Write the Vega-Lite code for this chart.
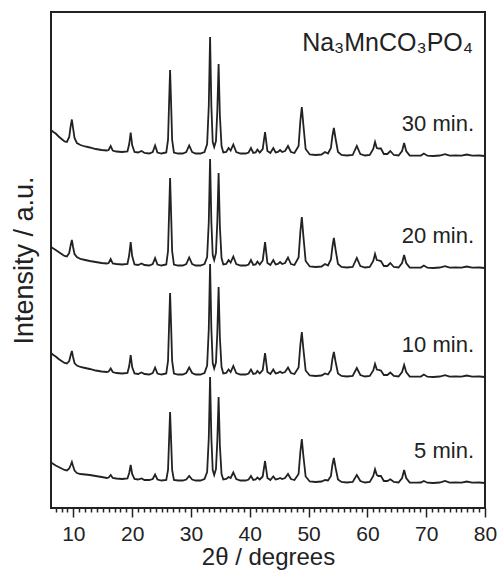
{
  "$schema": "https://vega.github.io/schema/vega-lite/v6.json",
  "width": 434,
  "height": 496,
  "autosize": {"type": "none"},
  "padding": {"left": 51, "top": 12, "right": 15, "bottom": 65},
  "background": "white",
  "config": {
    "view": {"stroke": "#222", "strokeWidth": 2},
    "font": "Liberation Sans"
  },
  "title": {
    "text": "Na₃MnCO₃PO₄",
    "anchor": "end",
    "frame": "group",
    "orient": "top",
    "offset": -44,
    "dx": -12,
    "fontSize": 25,
    "fontWeight": "normal",
    "font": "Liberation Sans",
    "color": "#222"
  },
  "datasets": {
    "xrd": [
      {"t":6.2,"m30":378,"m20":261,"m10":155,"m5":45.5},
      {"t":6.6,"m30":376,"m20":259.5,"m10":153,"m5":44},
      {"t":7.0,"m30":374.5,"m20":258,"m10":151.5,"m5":42.5},
      {"t":7.5,"m30":371.5,"m20":256,"m10":149,"m5":41},
      {"t":8.0,"m30":369,"m20":254,"m10":147,"m5":39.5},
      {"t":8.5,"m30":366.5,"m20":252,"m10":145,"m5":38},
      {"t":8.9,"m30":366,"m20":251.5,"m10":144.5,"m5":37.5},
      {"t":9.3,"m30":371,"m20":255,"m10":147,"m5":39.5},
      {"t":9.55,"m30":382,"m20":263,"m10":153,"m5":43},
      {"t":9.75,"m30":388.5,"m20":268,"m10":157,"m5":46},
      {"t":9.95,"m30":380,"m20":261,"m10":151,"m5":42},
      {"t":10.2,"m30":370,"m20":254,"m10":145,"m5":37.5},
      {"t":10.6,"m30":365,"m20":251,"m10":142.5,"m5":35},
      {"t":11.2,"m30":363,"m20":249,"m10":141,"m5":34},
      {"t":12.0,"m30":361.5,"m20":248,"m10":140,"m5":33.5},
      {"t":12.8,"m30":360.5,"m20":247,"m10":139,"m5":33},
      {"t":13.8,"m30":359,"m20":246,"m10":137.5,"m5":32},
      {"t":14.8,"m30":358,"m20":245,"m10":136.5,"m5":31},
      {"t":15.7,"m30":357.5,"m20":244.5,"m10":136,"m5":30},
      {"t":16.0,"m30":358,"m20":245,"m10":136.5,"m5":30.5},
      {"t":16.35,"m30":362,"m20":249,"m10":139.5,"m5":33},
      {"t":16.7,"m30":357.5,"m20":244.5,"m10":136,"m5":30},
      {"t":17.3,"m30":356.5,"m20":244,"m10":135,"m5":29.5},
      {"t":18.3,"m30":356,"m20":243.5,"m10":134.5,"m5":29},
      {"t":19.2,"m30":356.5,"m20":244,"m10":135,"m5":29.5},
      {"t":19.5,"m30":364,"m20":253,"m10":142,"m5":35},
      {"t":19.75,"m30":375.5,"m20":266,"m10":153,"m5":43},
      {"t":20.0,"m30":363,"m20":252,"m10":141,"m5":34},
      {"t":20.4,"m30":356,"m20":243.5,"m10":134.5,"m5":29},
      {"t":21.0,"m30":355.5,"m20":243,"m10":134,"m5":28.5},
      {"t":21.6,"m30":357,"m20":244.5,"m10":135.5,"m5":29.5},
      {"t":22.1,"m30":355,"m20":243,"m10":134,"m5":28},
      {"t":22.9,"m30":354.5,"m20":242.5,"m10":133.5,"m5":28},
      {"t":23.5,"m30":356,"m20":244,"m10":135,"m5":29},
      {"t":23.9,"m30":362.5,"m20":250,"m10":140.5,"m5":33.5},
      {"t":24.3,"m30":355.5,"m20":243.5,"m10":134.5,"m5":28.5},
      {"t":25.0,"m30":354.5,"m20":242.5,"m10":133.5,"m5":27.5},
      {"t":25.8,"m30":355.5,"m20":243.5,"m10":134.5,"m5":28},
      {"t":26.1,"m30":368,"m20":257,"m10":147,"m5":38},
      {"t":26.28,"m30":405,"m20":295,"m10":183,"m5":68},
      {"t":26.45,"m30":438,"m20":330,"m10":215,"m5":96},
      {"t":26.62,"m30":405,"m20":295,"m10":183,"m5":68},
      {"t":26.8,"m30":368,"m20":257,"m10":147,"m5":38},
      {"t":27.1,"m30":355.5,"m20":243.5,"m10":134.5,"m5":28},
      {"t":27.8,"m30":354.5,"m20":242.5,"m10":133.5,"m5":27.5},
      {"t":28.6,"m30":354.5,"m20":242.5,"m10":133.5,"m5":27.5},
      {"t":29.2,"m30":356,"m20":244,"m10":135,"m5":28.5},
      {"t":29.7,"m30":362.5,"m20":250.5,"m10":140.5,"m5":32},
      {"t":30.2,"m30":356,"m20":244,"m10":135,"m5":28.5},
      {"t":30.8,"m30":354.5,"m20":242.5,"m10":133.5,"m5":27.5},
      {"t":31.6,"m30":354.5,"m20":242.5,"m10":133.5,"m5":27.5},
      {"t":32.3,"m30":356,"m20":244,"m10":135,"m5":29},
      {"t":32.75,"m30":364,"m20":251,"m10":142.5,"m5":36},
      {"t":33.03,"m30":402,"m20":286,"m10":179,"m5":70},
      {"t":33.25,"m30":471,"m20":349,"m10":244,"m5":131},
      {"t":33.47,"m30":402,"m20":286,"m10":179,"m5":70},
      {"t":33.7,"m30":366,"m20":253,"m10":145,"m5":38},
      {"t":33.95,"m30":361,"m20":248,"m10":139.5,"m5":33},
      {"t":34.25,"m30":367,"m20":255,"m10":145.5,"m5":39},
      {"t":34.48,"m30":397,"m20":286,"m10":175,"m5":67},
      {"t":34.7,"m30":444,"m20":335,"m10":221,"m5":111},
      {"t":34.92,"m30":392,"m20":281,"m10":170,"m5":62},
      {"t":35.2,"m30":362,"m20":250,"m10":141,"m5":34},
      {"t":35.5,"m30":355.5,"m20":243.5,"m10":134.5,"m5":28.5},
      {"t":36.0,"m30":356,"m20":244,"m10":135,"m5":29},
      {"t":36.4,"m30":360,"m20":248,"m10":138.5,"m5":31},
      {"t":36.75,"m30":357.5,"m20":245.5,"m10":136,"m5":30},
      {"t":37.2,"m30":363.5,"m20":251.5,"m10":142,"m5":35.5},
      {"t":37.7,"m30":356,"m20":244,"m10":135,"m5":29},
      {"t":38.4,"m30":354.5,"m20":242.5,"m10":133.5,"m5":27.5},
      {"t":39.3,"m30":354.5,"m20":242.5,"m10":133.5,"m5":27.5},
      {"t":39.8,"m30":355.5,"m20":243.5,"m10":134.5,"m5":28.5},
      {"t":40.2,"m30":360,"m20":248,"m10":138.5,"m5":32},
      {"t":40.6,"m30":355,"m20":243,"m10":134,"m5":28},
      {"t":41.0,"m30":355.5,"m20":243.5,"m10":134.5,"m5":28.5},
      {"t":41.3,"m30":358.5,"m20":246.5,"m10":137,"m5":30.5},
      {"t":41.7,"m30":355.5,"m20":243.5,"m10":134.5,"m5":28.5},
      {"t":42.2,"m30":359,"m20":247.5,"m10":138,"m5":31.5},
      {"t":42.6,"m30":376,"m20":266,"m10":155,"m5":47},
      {"t":43.0,"m30":357,"m20":245,"m10":136,"m5":30},
      {"t":43.5,"m30":355,"m20":243,"m10":134,"m5":28},
      {"t":44.0,"m30":360,"m20":248,"m10":138.5,"m5":31.5},
      {"t":44.4,"m30":355.5,"m20":243.5,"m10":134.5,"m5":28.5},
      {"t":44.8,"m30":356,"m20":244,"m10":135,"m5":29},
      {"t":45.15,"m30":358,"m20":246,"m10":136.5,"m5":30},
      {"t":45.5,"m30":356,"m20":244,"m10":135,"m5":29},
      {"t":46.0,"m30":357,"m20":245,"m10":136,"m5":30},
      {"t":46.5,"m30":362,"m20":250.5,"m10":140.5,"m5":34},
      {"t":47.0,"m30":356,"m20":244,"m10":135,"m5":29},
      {"t":47.6,"m30":355,"m20":243,"m10":134,"m5":28},
      {"t":48.3,"m30":362,"m20":250.5,"m10":140.5,"m5":34},
      {"t":48.6,"m30":387,"m20":276,"m10":163,"m5":56},
      {"t":48.85,"m30":401,"m20":291,"m10":176,"m5":69},
      {"t":49.1,"m30":384,"m20":273,"m10":160,"m5":53},
      {"t":49.5,"m30":359,"m20":247,"m10":137.5,"m5":31.5},
      {"t":50.2,"m30":353.5,"m20":241.5,"m10":132.5,"m5":26.5},
      {"t":51.2,"m30":353,"m20":241,"m10":132,"m5":26},
      {"t":52.2,"m30":353.5,"m20":241.5,"m10":132.5,"m5":26.5},
      {"t":52.8,"m30":356,"m20":244,"m10":134.5,"m5":28},
      {"t":53.3,"m30":354.5,"m20":242.5,"m10":133.5,"m5":27.5},
      {"t":53.8,"m30":360,"m20":248.5,"m10":138,"m5":32},
      {"t":54.05,"m30":372,"m20":261,"m10":149,"m5":43},
      {"t":54.3,"m30":380,"m20":270,"m10":156,"m5":50},
      {"t":54.6,"m30":369,"m20":258,"m10":146,"m5":40},
      {"t":55.0,"m30":356,"m20":244,"m10":134.5,"m5":28.5},
      {"t":55.6,"m30":353,"m20":241,"m10":132,"m5":26},
      {"t":56.5,"m30":352.5,"m20":240.5,"m10":131.5,"m5":25.5},
      {"t":57.5,"m30":353,"m20":241,"m10":132,"m5":26},
      {"t":58.2,"m30":362,"m20":250,"m10":140,"m5":33},
      {"t":58.8,"m30":354,"m20":242,"m10":133,"m5":27},
      {"t":59.6,"m30":352.5,"m20":240.5,"m10":131.5,"m5":25.5},
      {"t":60.4,"m30":353,"m20":241,"m10":132,"m5":26},
      {"t":61.0,"m30":359,"m20":247,"m10":137.5,"m5":32},
      {"t":61.3,"m30":366,"m20":254,"m10":144,"m5":38.7},
      {"t":61.6,"m30":360,"m20":248,"m10":138.5,"m5":33},
      {"t":61.9,"m30":359.5,"m20":247.5,"m10":138,"m5":32},
      {"t":62.3,"m30":359.5,"m20":247,"m10":137.5,"m5":32},
      {"t":62.8,"m30":354,"m20":242,"m10":133,"m5":27},
      {"t":63.4,"m30":354,"m20":242,"m10":133,"m5":27},
      {"t":63.9,"m30":357,"m20":245,"m10":135.5,"m5":28.7},
      {"t":64.5,"m30":353,"m20":241,"m10":132,"m5":26},
      {"t":65.3,"m30":352.5,"m20":240.5,"m10":131.5,"m5":25.5},
      {"t":65.9,"m30":357,"m20":245,"m10":136,"m5":30},
      {"t":66.25,"m30":365,"m20":253,"m10":143,"m5":38},
      {"t":66.6,"m30":357,"m20":245,"m10":136,"m5":30},
      {"t":67.2,"m30":352.5,"m20":240.5,"m10":131.5,"m5":25.5},
      {"t":68.3,"m30":352.3,"m20":240.3,"m10":131.3,"m5":25.3},
      {"t":69.1,"m30":352.5,"m20":240.5,"m10":131.5,"m5":25.5},
      {"t":69.6,"m30":354.5,"m20":242.5,"m10":133.5,"m5":27},
      {"t":70.2,"m30":352.3,"m20":240.3,"m10":131.3,"m5":25.3},
      {"t":71.2,"m30":352,"m20":240,"m10":131,"m5":25},
      {"t":72.3,"m30":352.5,"m20":240.5,"m10":131.5,"m5":25.5},
      {"t":73.2,"m30":353.8,"m20":241.8,"m10":132.8,"m5":27},
      {"t":74.0,"m30":352.3,"m20":240.3,"m10":131.3,"m5":25.3},
      {"t":75.0,"m30":352.5,"m20":240.5,"m10":131.5,"m5":25.5},
      {"t":76.0,"m30":352.3,"m20":240.3,"m10":131.3,"m5":25.3},
      {"t":76.9,"m30":353.5,"m20":241.5,"m10":132.5,"m5":26.5},
      {"t":77.8,"m30":352.3,"m20":240.3,"m10":131.3,"m5":25.3},
      {"t":79.0,"m30":352.5,"m20":240.5,"m10":131.5,"m5":25.5},
      {"t":80.0,"m30":352,"m20":240,"m10":131,"m5":25}
    ],
    "names": [
      {"s": "m30", "label": "30 min."},
      {"s": "m20", "label": "20 min."},
      {"s": "m10", "label": "10 min."},
      {"s": "m5", "label": "5 min."}
    ]
  },
  "data": {"name": "xrd"},
  "transform": [
    {"fold": ["m30", "m20", "m10", "m5"], "as": ["s", "I"]}
  ],
  "encoding": {
    "x": {
      "field": "t",
      "type": "quantitative",
      "scale": {"domain": [6.2, 80], "nice": false, "zero": false},
      "axis": {
        "title": "2θ / degrees",
        "titleFontSize": 24,
        "titleFont": "Liberation Sans",
        "titleFontWeight": "normal",
        "titleColor": "#222",
        "titlePadding": 1,
        "values": [7,8,9,10,11,12,13,14,15,16,17,18,19,20,21,22,23,24,25,26,27,28,29,30,31,32,33,34,35,36,37,38,39,40,41,42,43,44,45,46,47,48,49,50,51,52,53,54,55,56,57,58,59,60,61,62,63,64,65,66,67,68,69,70,71,72,73,74,75,76,77,78,79,80],
        "labelExpr": "datum.value % 10 === 0 ? datum.label : ''",
        "labelOverlap": false,
        "labelFlush": false,
        "labelFontSize": 21,
        "labelFont": "Liberation Sans",
        "labelColor": "#222",
        "labelPadding": 6,
        "tickSize": {"condition": {"test": "datum.value % 10 === 0", "value": 9}, "value": 4},
        "tickColor": "#222",
        "tickWidth": 1.5,
        "domain": false,
        "grid": false
      }
    },
    "y": {
      "field": "I",
      "type": "quantitative",
      "scale": {"domain": [0, 496], "nice": false},
      "axis": {
        "title": "Intensity / a.u.",
        "titleFontSize": 27,
        "titleFont": "Liberation Sans",
        "titleFontWeight": "normal",
        "titleColor": "#222",
        "titlePadding": 13,
        "ticks": false,
        "labels": false,
        "domain": false,
        "grid": false
      }
    }
  },
  "layer": [
    {
      "mark": {"type": "line", "color": "#222", "strokeWidth": 1.8, "clip": true},
      "encoding": {"detail": {"field": "s", "type": "nominal"}}
    },
    {
      "transform": [
        {"filter": "datum.t === 80"},
        {"lookup": "s", "from": {"data": {"name": "names"}, "key": "s", "fields": ["label"]}}
      ],
      "mark": {"type": "text", "align": "right", "baseline": "middle", "dx": -11, "dy": -32, "fontSize": 22, "font": "Liberation Sans", "color": "#222"},
      "encoding": {"text": {"field": "label", "type": "nominal"}}
    }
  ]
}
